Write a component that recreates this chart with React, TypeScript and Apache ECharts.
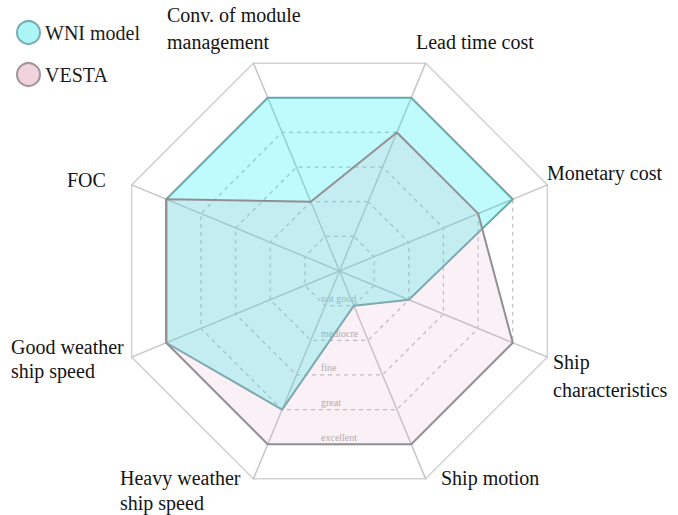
import React, { useEffect, useRef } from "react";
import * as echarts from "echarts";

// ---- data ----
// indicators in ECharts order (counter-clockwise, starting at 67.5°)
const indicators = [
  "Lead time cost",
  "Conv. of module\nmanagement",
  "FOC",
  "Good weather\nship speed",
  "Heavy weather\nship speed",
  "Ship motion",
  "Ship\ncharacteristics",
  "Monetary cost",
];
const wniValues = [5, 5, 5, 5, 4, 1, 2, 5];
const vestaValues = [4, 2, 5, 5, 5, 5, 5, 4];
const seriesNames = ["WNI model", "VESTA"];
const levelLabels = ["not good", "mediocre", "fine", "great", "excellent"];
const maxLevel = 6;

// ---- layout ----
const CX = 339.5;
const CY = 271;
const R = 225;
const START_ANGLE = 67.5;
const FONT = "'Liberation Serif', 'Times New Roman', 'DejaVu Serif', serif";
// first-line centre of each axis name, same order as indicators
const namePos = [
  { x: 416, y: 42, lh: 25 },
  { x: 167, y: 15, lh: 27 },
  { x: 67, y: 180, lh: 25 },
  { x: 11, y: 347, lh: 24 },
  { x: 120, y: 478, lh: 25 },
  { x: 441, y: 478, lh: 25 },
  { x: 553, y: 362, lh: 28 },
  { x: 547, y: 173, lh: 25 },
];

export default function App() {
  const ref = useRef<HTMLDivElement>(null);
  useEffect(() => {
    document.body.style.margin = "0";
    const chart = echarts.init(ref.current!, undefined, { renderer: "svg" });
    const unit = (R / maxLevel) * Math.cos((22.5 * Math.PI) / 180);
    const graphics: any[] = [];
    indicators.forEach((n, i) => {
      const p = namePos[i];
      graphics.push({
        type: "text",
        x: p.x,
        y: p.y - p.lh / 2,
        style: {
          text: n,
          fontFamily: FONT,
          fontSize: 20,
          fill: "#141414",
          lineHeight: p.lh,
          verticalAlign: "top",
          align: "left",
        },
      });
    });
    levelLabels.forEach((t, i) => {
      graphics.push({
        type: "text",
        x: 321,
        y: CY + (i + 1) * unit - 7,
        style: {
          text: t,
          fontFamily: FONT,
          fontSize: 10,
          fill: "#aaaaaa",
          verticalAlign: "middle",
          align: "left",
        },
      });
    });
    const grey = "#bcbcbc";
    chart.setOption({
      animation: false,
      legend: {
        orient: "vertical",
        left: 11,
        top: 15,
        icon: "circle",
        itemWidth: 23,
        itemHeight: 23,
        itemGap: 17,
        textStyle: { fontFamily: FONT, fontSize: 20, color: "#1c1c1c" },
        data: [
          { name: seriesNames[0], itemStyle: { color: "#acf5f7", borderColor: "#7aaeb1", borderWidth: 2 } },
          { name: seriesNames[1], itemStyle: { color: "#f1d3de", borderColor: "#a29499", borderWidth: 2 } },
        ],
      },
      radar: [
        {
          center: [CX, CY],
          radius: R,
          startAngle: START_ANGLE,
          shape: "polygon",
          splitNumber: maxLevel,
          indicator: indicators.map((n) => ({ name: n, min: 0, max: maxLevel })),
          axisName: { show: false },
          axisLine: { lineStyle: { color: "#c6c6c6", width: 1.5 } },
          splitLine: {
            lineStyle: {
              color: [grey, grey, grey, grey, grey, grey, "rgba(0,0,0,0)"],
              type: [4, 4],
              width: 1.2,
            },
          },
          splitArea: { show: false },
        },
        {
          center: [CX, CY],
          radius: R,
          startAngle: START_ANGLE,
          shape: "polygon",
          splitNumber: 1,
          indicator: indicators.map((n) => ({ name: n, min: 0, max: maxLevel })),
          axisName: { show: false },
          axisLine: { show: false },
          splitLine: { lineStyle: { color: ["rgba(0,0,0,0)", "#d2d2d2"], width: 1.5 } },
          splitArea: { show: false },
        },
      ],
      series: [
        {
          type: "radar",
          radarIndex: 0,
          name: seriesNames[0],
          symbol: "none",
          data: [{ name: seriesNames[0], value: wniValues }],
          lineStyle: { color: "#7a9fa1", width: 2 },
          itemStyle: { color: "#acf5f7" },
          areaStyle: { color: "rgba(0,240,242,0.36)" },
        },
        {
          type: "radar",
          radarIndex: 0,
          name: seriesNames[1],
          symbol: "none",
          data: [{ name: seriesNames[1], value: vestaValues }],
          lineStyle: { color: "#8c8c8c", width: 2 },
          itemStyle: { color: "#f1d3de" },
          areaStyle: { color: "rgba(222,178,200,0.26)" },
        },
      ],
      graphic: graphics,
    });
    return () => chart.dispose();
  }, []);
  return <div ref={ref} style={{ width: 678, height: 515 }} />;
}
